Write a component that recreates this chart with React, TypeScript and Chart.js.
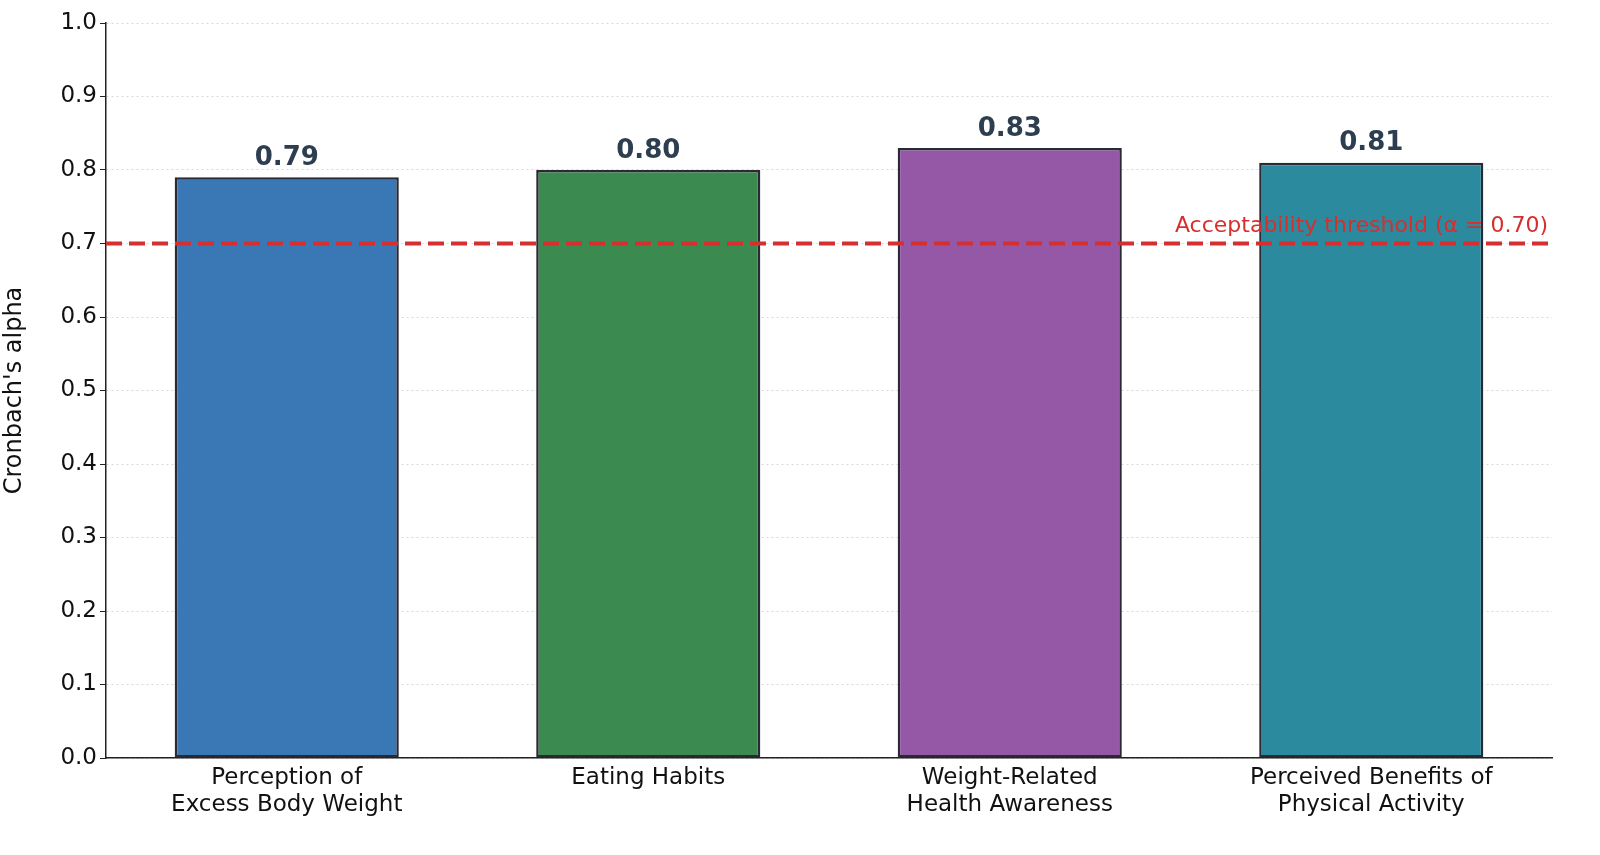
import React, { useEffect, useRef } from "react";
import { Chart, registerables } from "chart.js";
Chart.register(...registerables);

const categories: string[][] = [
  ["Perception of", "Excess Body Weight"],
  ["Eating Habits"],
  ["Weight-Related", "Health Awareness"],
  ["Perceived Benefits of", "Physical Activity"],
];
const alphas = [0.79, 0.8, 0.83, 0.81];
const barColors = ["#3a78b5", "#3b8a50", "#9558a6", "#2b8a9e"];
const threshold = 0.7;
const thresholdLabel = "Acceptability threshold (α = 0.70)";
const FONT = "'DejaVu Sans', sans-serif";

export default function App() {
  const ref = useRef<HTMLCanvasElement>(null);
  useEffect(() => {
    const overlay = {
      id: "overlay",
      afterDatasetsDraw(chart: any) {
        const ctx = chart.ctx;
        const x = chart.scales.x, y = chart.scales.y;
        const meta = chart.getDatasetMeta(0);
        ctx.save();
        ctx.font = `bold 26px ${FONT}`;
        ctx.fillStyle = "#2c3e50";
        ctx.textAlign = "center";
        ctx.textBaseline = "bottom";
        meta.data.forEach((b: any, i: number) => {
          ctx.fillText(alphas[i].toFixed(2), b.x, b.y - 6);
        });
        const ty = y.getPixelForValue(threshold);
        ctx.strokeStyle = "#d62f2f";
        ctx.lineWidth = 4;
        ctx.setLineDash([16, 7]);
        ctx.beginPath();
        ctx.moveTo(x.left, ty);
        ctx.lineTo(x.right, ty);
        ctx.stroke();
        ctx.setLineDash([]);
        ctx.font = `22px ${FONT}`;
        ctx.fillStyle = "#d62f2f";
        ctx.textAlign = "right";
        ctx.textBaseline = "bottom";
        ctx.fillText(thresholdLabel, x.right - 4, ty - 6);
        ctx.restore();
      },
    };
    const chart = new Chart(ref.current!, {
      type: "bar",
      data: {
        labels: categories,
        datasets: [{
          data: alphas,
          backgroundColor: barColors,
          borderColor: "#2a2a35",
          borderWidth: 2.5,
          borderSkipped: false,
          barPercentage: 0.62,
          categoryPercentage: 1,
        }],
      },
      options: {
        responsive: false,
        animation: false,
        layout: { padding: { left: 0, top: 23, right: 48, bottom: 0 } },
        plugins: { legend: { display: false }, tooltip: { enabled: false } },
        scales: {
          x: {
            grid: { display: false, tickLength: 6 },
            border: { color: "#222", width: 1.5 },
            ticks: { color: "#111", font: { family: FONT, size: 23 }, maxRotation: 0, padding: 0 },
            afterFit: (s: any) => { s.height = 97; },
          },
          y: {
            min: 0, max: 1,
            ticks: { stepSize: 0.1, color: "#111", font: { family: FONT, size: 23 }, callback: (v: any) => Number(v).toFixed(1) },
            grid: { color: "#d8d8d8", drawTicks: true, tickColor: "#222", tickLength: 6 } as any,
            border: { color: "#222", width: 1.5, dash: [2, 3] },
            title: { display: true, text: "Cronbach's alpha", color: "#111", font: { family: FONT, size: 24 }, padding: { top: 0, bottom: 8 } },
            afterFit: (s: any) => { s.width = 106; },
          },
        },
      },
      plugins: [overlay],
    } as any);
    return () => chart.destroy();
  }, []);
  return (
    <div style={{ position: "absolute", left: 0, top: 0, width: 1600, height: 855, background: "#fff" }}>
      <canvas ref={ref} width={1600} height={855} />
    </div>
  );
}
